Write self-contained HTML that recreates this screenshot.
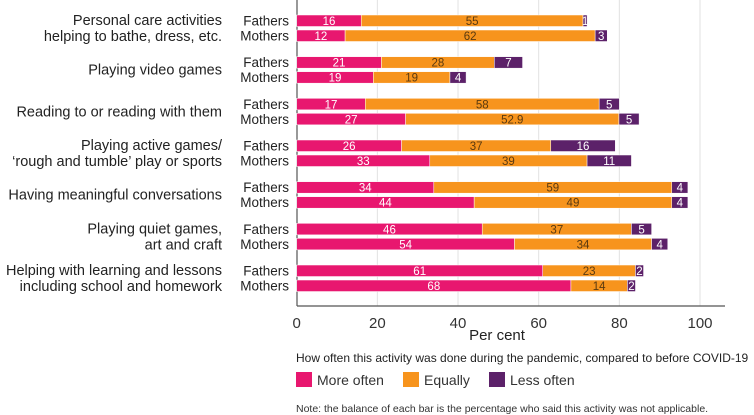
<!DOCTYPE html>
<html><head><meta charset="utf-8"><style>
body{margin:0;background:#fff;font-family:"Liberation Sans",sans-serif;}
svg{display:block}
</style></head><body>
<svg id="c" width="754" height="415" xmlns="http://www.w3.org/2000/svg"></svg>
<script>
const categories=[["Personal care activities","helping to bathe, dress, etc."],["Playing video games"],["Reading to or reading with them"],["Playing active games/","‘rough and tumble’ play or sports"],["Having meaningful conversations"],["Playing quiet games,","art and craft"],["Helping with learning and lessons","including school and homework"]];
const fathersMore=[16,21,17,26,34,46,61];
const fathersEqual=[55,28,58,37,59,37,23];
const fathersLess=[1,7,5,16,4,5,2];
const mothersMore=[12,19,27,33,44,54,68];
const mothersEqual=[62,19,52.9,39,49,34,14];
const mothersLess=[3,4,5,11,4,4,2];
const ticks=[0,20,40,60,80,100];
const colors=["#e8176f","#f7941d","#5c2169"];
const NS="http://www.w3.org/2000/svg";
const svg=document.getElementById('c');
const x0=296.7,px=4.033;
const X=v=>x0+v*px;
const gy=i=>15+i*41.67;
function mk(t,a,p){const e=document.createElementNS(NS,t);for(const k in a)e.setAttribute(k,a[k]);(p||svg).appendChild(e);return e;}
ticks.forEach(t=>{
 if(t>0){const g=mk('line',{x1:X(t),x2:X(t),y1:0,y2:306,stroke:'#e2e2e2','stroke-width':1});
 
 }
 const l=mk('text',{x:X(t),y:328,'text-anchor':'middle','font-size':15,fill:'#333'});l.textContent=t;
 
 
});
const ax=mk('line',{x1:297,x2:725,y1:306,y2:306,stroke:'#555','stroke-width':1.2});


const ay=mk('line',{x1:297,x2:297,y1:0,y2:306,stroke:'#555','stroke-width':1.2});


const rows=[["Fathers",fathersMore,fathersEqual,fathersLess],["Mothers",mothersMore,mothersEqual,mothersLess]];
categories.forEach((cat,i)=>{
 const y=gy(i);
 const lab=mk('text',{x:222,'text-anchor':'end','font-size':14.5,fill:'#222'});
 
 
 const cy=cat.length==1?y+18:y+10;
 cat.forEach((s,k)=>{const ts=mk('tspan',{x:222,y:cy+k*16},lab);ts.textContent=s;});
 rows.forEach((r,j)=>{
  const by=y+j*15;
  const t=mk('text',{x:289,y:by+10.5,'text-anchor':'end','font-size':13.5,fill:'#222'});t.textContent=r[0];
  
  
  let acc=0;
  [r[1][i],r[2][i],r[3][i]].forEach((v,s)=>{
   const rc=mk('rect',{x:X(acc),y:by,width:v*px,height:11.5,fill:colors[s],stroke:'#fff','stroke-width':0.5});
   
   
   const tx=mk('text',{x:X(acc+v/2),y:by+10,'text-anchor':'middle','font-size':11.5,fill:s==1?'#5a3a10':'#fff'});tx.textContent=v;
   
   
   acc+=v;
  });
 });
});
const xt=mk('text',{x:497,y:340,'text-anchor':'middle','font-size':15,fill:'#222'});xt.textContent='Per cent';


const lt=mk('text',{x:296,y:362,'font-size':12,fill:'#222'});lt.textContent='How often this activity was done during the pandemic, compared to before COVID-19';


[["More often",296],["Equally",403],["Less often",489]].forEach((d,k)=>{
 const g=mk('g',{});
 
 
 mk('rect',{x:d[1],y:372,width:16,height:15,fill:colors[k]},g);
 const t=mk('text',{x:d[1]+21,y:385,'font-size':14,fill:'#333'},g);t.textContent=d[0];
});
const nt=mk('text',{x:296,y:412,'font-size':10.5,fill:'#333'});nt.textContent='Note: the balance of each bar is the percentage who said this activity was not applicable.';


</script>
</body></html>
